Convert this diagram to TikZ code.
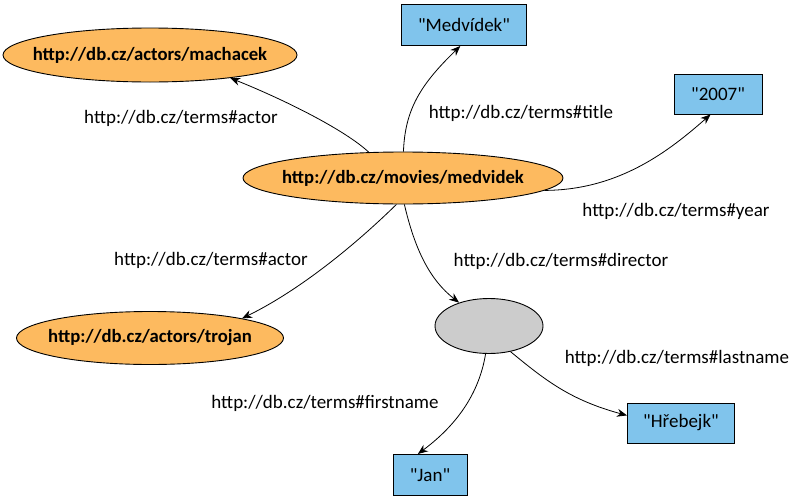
\documentclass[tikz,border=0pt]{standalone}
\usepackage{fontspec}
\setmainfont{Carlito}[Ligatures=TeXOff]
\usetikzlibrary{shapes.geometric,arrows.meta}
\definecolor{orangefill}{RGB}{253,186,95}
\definecolor{bluefill}{RGB}{128,196,236}
\definecolor{grayfill}{RGB}{204,204,204}
\tikzset{
  res/.style={ellipse,draw=black,fill=orangefill,line width=0.9pt,inner sep=0pt,font=\fontsize{18.7}{22}\selectfont\bfseries},
  blank/.style={ellipse,draw=black,fill=grayfill,line width=0.9pt,inner sep=0pt},
  lit/.style={rectangle,draw=black,fill=bluefill,line width=1pt,inner sep=0pt,font=\fontsize{19}{22}\selectfont},
  lbl/.style={inner sep=0pt,font=\fontsize{19}{22}\selectfont},
  arr/.style={-{Stealth[length=10pt,width=8pt]},line width=0.8pt}
}
\newcommand{\zb}[1]{\makebox[0pt]{#1}}
\begin{document}
\begin{tikzpicture}[x=1pt,y=-1pt]
\useasboundingbox (0,0) rectangle (790,498);
% nodes
\node[res,minimum width=294pt,minimum height=54pt] (mach) at (150,55) {\zb{http://db.cz/actors/machacek}};
\node[res,minimum width=320pt,minimum height=52pt] (mov) at (403,178) {\zb{http://db.cz/movies/medvidek}};
\node[res,minimum width=267pt,minimum height=53pt] (troj) at (150,338) {\zb{http://db.cz/actors/trojan}};
\node[blank,minimum width=108pt,minimum height=55pt] (bn) at (489,326) {};
\node[lit,minimum width=125pt,minimum height=41pt] (med) at (464,25) {\zb{"Medvídek"}};
\node[lit,minimum width=88pt,minimum height=40pt] (yr) at (718,94) {\zb{"2007"}};
\node[lit,minimum width=107pt,minimum height=40pt] (hreb) at (681,423) {\zb{"Hřebejk"}};
\node[lit,minimum width=74pt,minimum height=41pt] (jan) at (430,475) {\zb{"Jan"}};
% labels
\node[lbl] (l1) at (181,118) {http://db.cz/terms\#actor};
\node[lbl] (l2) at (521,113) {http://db.cz/terms\#title};
\node[lbl] (l3) at (676,211) {http://db.cz/terms\#year};
\node[lbl] (l4) at (211,260) {http://db.cz/terms\#actor};
\node[lbl] (l5) at (561,261) {http://db.cz/terms\#director};
\node[lbl] (l6) at (677,358) {http://db.cz/terms\#lastname};
\node[lbl] (l7) at (325,403) {http://db.cz/terms\#firstname};
% edges
\draw[arr] (mov.143) .. controls (345,130) and (285,100) .. (mach.-16.6);
\draw[arr] (mov.89) .. controls (405,110) and (420,85) .. (med.-100);
\draw[arr] (mov.-5) .. controls (620,190) and (670,150) .. (yr.-110);
\draw[arr] (mov.-104) .. controls (355,245) and (300,290) .. (troj.12);
\draw[arr] (mov.-87) .. controls (415,250) and (430,280) .. (bn.142);
\draw[arr] (bn.-97) .. controls (478,400) and (450,430) .. (jan.120);
\draw[arr] (bn.-50) .. controls (545,380) and (570,400) .. (hreb.172);
\end{tikzpicture}
\end{document}
